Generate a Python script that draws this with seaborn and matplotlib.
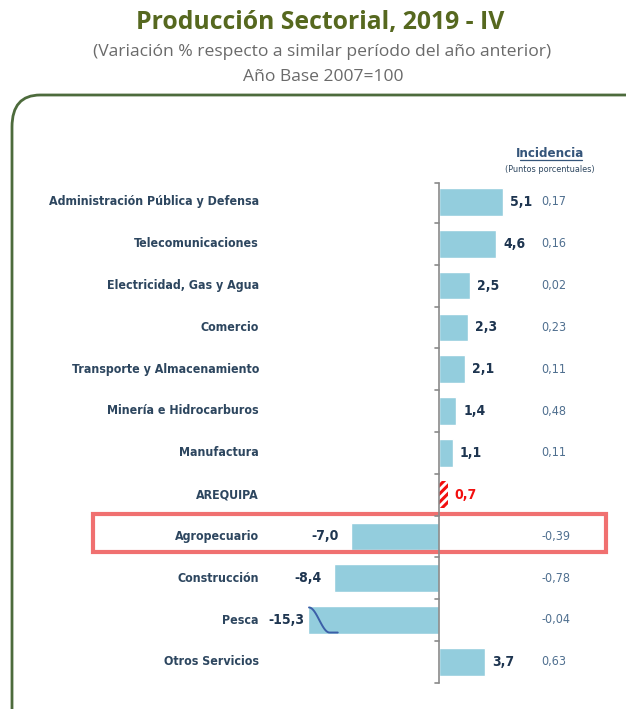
import numpy as np
import matplotlib
matplotlib.use("Agg")
import matplotlib.pyplot as plt
from matplotlib.patches import FancyBboxPatch, Rectangle
import seaborn as sns

# Data
sectors = ["Administración Pública y Defensa", "Telecomunicaciones", "Electricidad, Gas y Agua",
           "Comercio", "Transporte y Almacenamiento", "Minería e Hidrocarburos", "Manufactura",
           "AREQUIPA", "Agropecuario", "Construcción", "Pesca", "Otros Servicios"]
variation = [5.1, 4.6, 2.5, 2.3, 2.1, 1.4, 1.1, 0.7, -7.0, -8.4, -15.3, 3.7]
incidence = [0.17, 0.16, 0.02, 0.23, 0.11, 0.48, 0.11, None, -0.39, -0.78, -0.04, 0.63]
highlight = "Agropecuario"
total_label = "AREQUIPA"
axis_floor = -10.5   # bars below this are drawn broken

BAR = "#93cddd"
LABEL_C = "#2d465f"
VAL_C = "#1e3550"
INC_C = "#4f6f8f"
RED = "#f20f0f"

def fmt(v, d) :
    return f"{v:.{d}f}".replace(".", ",")

sns.set_theme(style="white")
plt.rcParams['font.family'] = ['DejaVu Sans']
plt.rcParams['font.stretch'] = 'condensed'
plt.rcParams['hatch.linewidth'] = 2.2

W, H = 626, 709
fig = plt.figure(figsize=(W / 100, H / 100), dpi=100)
ax = fig.add_axes([0, 0, 1, 1])

# pixel geometry: x=0 at 439px, 12.5 px per unit; row 0 at 202px, 41.8 px per row
px_unit, x0 = 12.5, 439
row_h, y0 = 41.8, 202

shown = [max(v, axis_floor) for v in variation]
sns.barplot(x=shown, y=list(range(len(sectors))), orient="h", color=BAR, saturation=1,
            width=0.66, ax=ax, native_scale=True)

ax.set_xlim(-x0 / px_unit, (W - x0) / px_unit)
ax.set_ylim((H - y0) / row_h, -y0 / row_h)
ax.axis("off")

# regional total bar hatched red
i_tot = sectors.index(total_label)
p = ax.patches[i_tot]
p.set_facecolor("white")
p.set_edgecolor(RED)
p.set_linewidth(0)
p.set_hatch("////")

# vertical axis with ticks at row boundaries
n = len(sectors)
ax.plot([0, 0], [-0.45, n - 0.5], color="#8a8a8a", lw=1.2)
for k in range(-1, n) :
    yb = k + 0.5 if k >= 0 else -0.45
    ax.plot([-0.35, 0], [yb, yb], color="#8a8a8a", lw=1.2)

for i, (s, v, inc) in enumerate(zip(sectors, variation, incidence)) :
    ax.text(-14.4, i, s, ha="right", va="center", fontsize=8.9, fontweight="bold", color=LABEL_C)
    vc = RED if s == total_label else VAL_C
    if v >= 0 :
        ax.text(v + 0.55, i, fmt(v, 1), ha="left", va="center", fontsize=10,
                fontweight="bold", color=vc)
    else :
        gap = 0.3 if v < axis_floor else 1.0
        ax.text(max(v, axis_floor) - gap, i, fmt(v, 1), ha="right", va="center",
                fontsize=10, fontweight="bold", color=vc)
    if inc is not None :
        ax.text(8.2, i, fmt(inc, 2), ha="left", va="center", fontsize=9, color=INC_C)

# break mark on truncated bar
for i, v in enumerate(variation) :
    if v < axis_floor :
        t = np.linspace(0, 1, 30)
        xs = axis_floor + 0.1 + 2.3 * t
        ys = i - 0.3 + 0.6 * (0.5 - 0.5 * np.cos(np.pi * np.clip(t * 1.4, 0, 1)))
        ax.plot(xs, ys, color="#3b5fa8", lw=1.4)

# highlight box
i_h = sectors.index(highlight)
ax.add_patch(Rectangle(((93 - x0) / px_unit, i_h - 0.53), (606 - 93) / px_unit, 0.91,
                       fill=False, edgecolor="#f07070", lw=3))

# incidence header
ax.text(8.9, -1.17, "Incidencia", ha="center", va="center", fontsize=9.5, fontweight="bold",
        color="#35557a")
ax.plot([6.45, 11.4], [-1.0, -1.0], color="#35557a", lw=0.9)
ax.text(8.9, -0.77, "(Puntos porcentuales)", ha="center", va="center", fontsize=6.5, color=LABEL_C)

# rounded frame
fig.patches.append(FancyBboxPatch((12 / W, -0.1), 1.2, 0.1 + (H - 95) / H,
                                  boxstyle="round,pad=0,rounding_size=0.045",
                                  transform=fig.transFigure, fill=False,
                                  edgecolor="#4d6b3c", lw=2))

fig.text(320 / W, 1 - 22 / H, "Producción Sectorial, 2019 - IV", ha="center", va="center",
         fontsize=17.8, fontweight="bold", color="#56681f", family=['Open Sans', 'DejaVu Sans'],
         stretch='normal')
fig.text(322 / W, 1 - 52 / H, "(Variación % respecto a similar período del año anterior)",
         ha="center", va="center", fontsize=12.6, color="#6a6a6a", family=['Open Sans', 'DejaVu Sans'],
         stretch='normal')
fig.text(323 / W, 1 - 77 / H, "Año Base 2007=100", ha="center", va="center", fontsize=12.6,
         color="#6a6a6a", family=['Open Sans', 'DejaVu Sans'], stretch='normal')

fig.savefig("out.png", dpi=100)
